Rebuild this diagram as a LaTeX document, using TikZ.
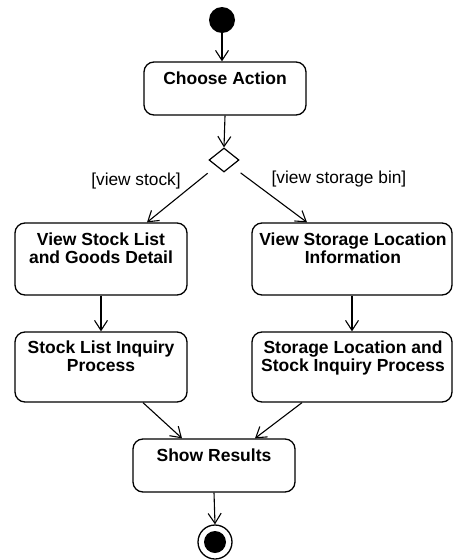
\documentclass[tikz,border=0pt]{standalone}
\usepackage{fontspec}
\setmainfont{Liberation Sans}
\usetikzlibrary{arrows.meta,shapes.geometric}
\begin{document}
\begin{tikzpicture}[x=1pt,y=-1pt,
  actbox/.style={draw,line width=1.3pt,rounded corners=10pt,inner sep=0pt},
  acttext/.style={anchor=north,align=center,inner sep=0pt,font=\fontsize{17.5}{17.5}\selectfont\bfseries},
  guard/.style={inner sep=0pt,font=\fontsize{17.3}{17.5}\selectfont},
  flow/.style={line width=1.1pt,-{Straight Barb[length=10pt,width=13pt,line width=1.1pt]}}]
\useasboundingbox (0,0) rectangle (454,560);
\fill[white] (0,0) rectangle (454,560);
% initial
\node[circle,fill=black,minimum size=26pt,inner sep=0pt] (init) at (222,20) {};
% boxes
\node[actbox,minimum width=162pt,minimum height=53pt] (choose) at (225,88.5) {};
\node[acttext] (tchoose) at (225,72) {Choose Action};
\node[diamond,draw,line width=1.2pt,minimum width=30pt,minimum height=24pt,inner sep=0pt,aspect=1.25] (dia) at (224,160) {};
\node[actbox,minimum width=172pt,minimum height=72pt] (vsl) at (101,259) {};
\node[acttext] (tvsl) at (101,233) {View Stock List\\and Goods Detail};
\node[actbox,minimum width=200pt,minimum height=72pt] (vsi) at (352,259) {};
\node[acttext] (tvsi) at (353,233) {View Storage Location\\Information};
\node[actbox,minimum width=172pt,minimum height=70pt] (sli) at (101,367) {};
\node[acttext] (tsli) at (101,341) {Stock List Inquiry\\Process};
\node[actbox,minimum width=200pt,minimum height=70pt] (sls) at (352,367) {};
\node[acttext] (tsls) at (353,341) {Storage Location and\\Stock Inquiry Process};
\node[actbox,minimum width=162pt,minimum height=53pt] (show) at (214,465.5) {};
\node[acttext] (tshow) at (214,449) {Show Results};
% final
\node[circle,draw,line width=1.3pt,fill=white,minimum size=34pt,inner sep=0pt] (fin) at (215,542) {};
\node[circle,fill=black,minimum size=22pt,inner sep=0pt] (finin) at (215,542) {};
% guards
\node[guard] (g1) at (136,181) {[view stock]};
\node[guard] (g2) at (339,179) {[view storage bin]};
% flows
\draw[flow] (init.south) -- (init.south |- choose.north);
\draw[flow] (choose.south) -- (dia.north);
\draw[flow,shorten <=11pt] (dia.south west) -- ([xshift=46pt]vsl.north);
\draw[flow,shorten <=11pt] (dia.south east) -- ([xshift=-45pt]vsi.north);
\draw[flow] (vsl.south) -- (sli.north);
\draw[flow] (vsi.south) -- (sls.north);
\draw[flow] ([xshift=42pt]sli.south) -- ([xshift=-32pt]show.north);
\draw[flow] ([xshift=-50pt]sls.south) -- ([xshift=41pt]show.north);
\draw[flow] (show.south) -- (fin.north);
\end{tikzpicture}
\end{document}
